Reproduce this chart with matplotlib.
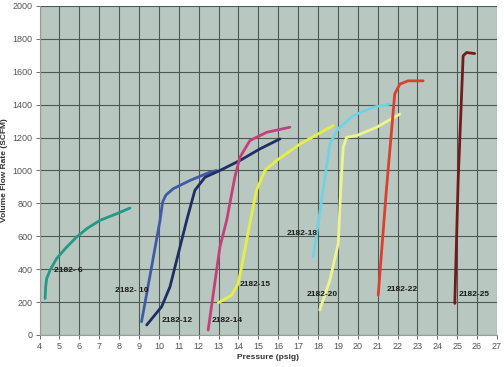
import matplotlib.pyplot as plt

# pressure (psig) / flow (SCFM), one pair of lists per run
p_6 = [4.28, 4.31, 4.36, 4.53, 4.86, 5.37, 5.87, 6.37, 7.04, 7.88, 8.55]
q_6 = [222, 293, 343, 394, 465, 535, 596, 646, 697, 737, 772]

p_10 = [9.13, 9.6, 10.06, 10.19, 10.35, 10.72, 11.56, 12.57, 12.9]
q_10 = [81, 390, 697, 808, 850, 889, 939, 990, 1000]

p_12 = [9.39, 10.14, 10.56, 11.4, 11.81, 12.32, 13.07, 14.08, 15.08, 16.09]
q_12 = [61, 172, 293, 697, 879, 959, 1000, 1061, 1131, 1192]

p_14 = [12.48, 13.07, 13.41, 13.82, 14.08, 14.58, 15.42, 16.59]
q_14 = [30, 535, 697, 959, 1081, 1182, 1232, 1263]

p_15 = [12.99, 13.66, 13.99, 14.16, 14.58, 14.91, 15.33, 15.92, 17.09, 18.76]
q_15 = [196, 242, 313, 414, 680, 879, 1000, 1061, 1160, 1273]

p_18 = [17.76, 18.26, 18.6, 19.01, 19.77, 20.77, 21.61]
q_18 = [475, 879, 1162, 1253, 1333, 1384, 1404]

p_20 = [18.09, 18.6, 19.02, 19.15, 19.27, 19.44, 19.94, 20.95, 22.12]
q_20 = [152, 333, 556, 900, 1141, 1202, 1212, 1263, 1343]

p_22 = [21.03, 21.44, 21.86, 22.12, 22.53, 23.29]
q_22 = [242, 879, 1465, 1525, 1545, 1545]

p_25 = [24.88, 25.05, 25.3, 25.47, 25.88]
q_25 = [192, 939, 1697, 1717, 1711]

series = [
    (p_6, q_6, "#239a86"),
    (p_10, q_10, "#3f5ba8"),
    (p_12, q_12, "#1f2e63"),
    (p_14, q_14, "#c4407c"),
    (p_15, q_15, "#e6f040"),
    (p_18, q_18, "#6fd3e3"),
    (p_20, q_20, "#eef48e"),
    (p_22, q_22, "#dc3f2f"),
    (p_25, q_25, "#731b1b"),
]

# run labels and where they sit (left edge, baseline-ish centre)
labels = ["2182- 6", "2182- 10", "2182-12", "2182-14", "2182-15",
          "2182-18", "2182-20", "2182-22", "2182-25"]
label_x = [4.75, 7.8, 10.14, 12.65, 14.08, 16.42, 17.43, 21.45, 25.08]
label_y = [394, 273, 91, 91, 309, 616, 248, 277, 248]

fig = plt.figure(figsize=(5.04, 3.67), dpi=100)
ax = fig.add_axes([0.0784, 0.0872, 0.9076, 0.8965])
ax.set_facecolor("#b8c8c1")

for p, q, c in series:
    ax.plot(p, q, color=c, lw=2.0, solid_capstyle="round", solid_joinstyle="round", zorder=3)

for txt, x, y in zip(labels, label_x, label_y):
    ax.text(x, y, txt, fontsize=6, fontweight="bold", color="#1a1a1a",
            ha="left", va="center", family="Liberation Sans", zorder=4)

ax.set_xlim(4, 27)
ax.set_ylim(0, 2000)
ax.set_xticks(range(4, 28))
ax.set_yticks(range(0, 2001, 200))
ax.grid(True, color="#4e5853", lw=0.8, zorder=1)
ax.set_axisbelow(True)

for s in ["top", "right"]:
    ax.spines[s].set_visible(False)
for s in ["left", "bottom"]:
    ax.spines[s].set_color("#9a9a9a")
    ax.spines[s].set_linewidth(0.8)

ax.tick_params(labelsize=6.5, colors="#555555", length=3, width=0.6, pad=2)
for lab in ax.get_xticklabels() + ax.get_yticklabels():
    lab.set_family("Liberation Sans")

ax.set_xlabel("Pressure (psig)", fontsize=6, fontweight="bold", color="#333333",
              family="Liberation Sans", labelpad=2)
ax.set_ylabel("Volume Flow Rate (SCFM)", fontsize=6, fontweight="bold", color="#333333",
              family="Liberation Sans", labelpad=3)

fig.savefig("out.png", dpi=100)
